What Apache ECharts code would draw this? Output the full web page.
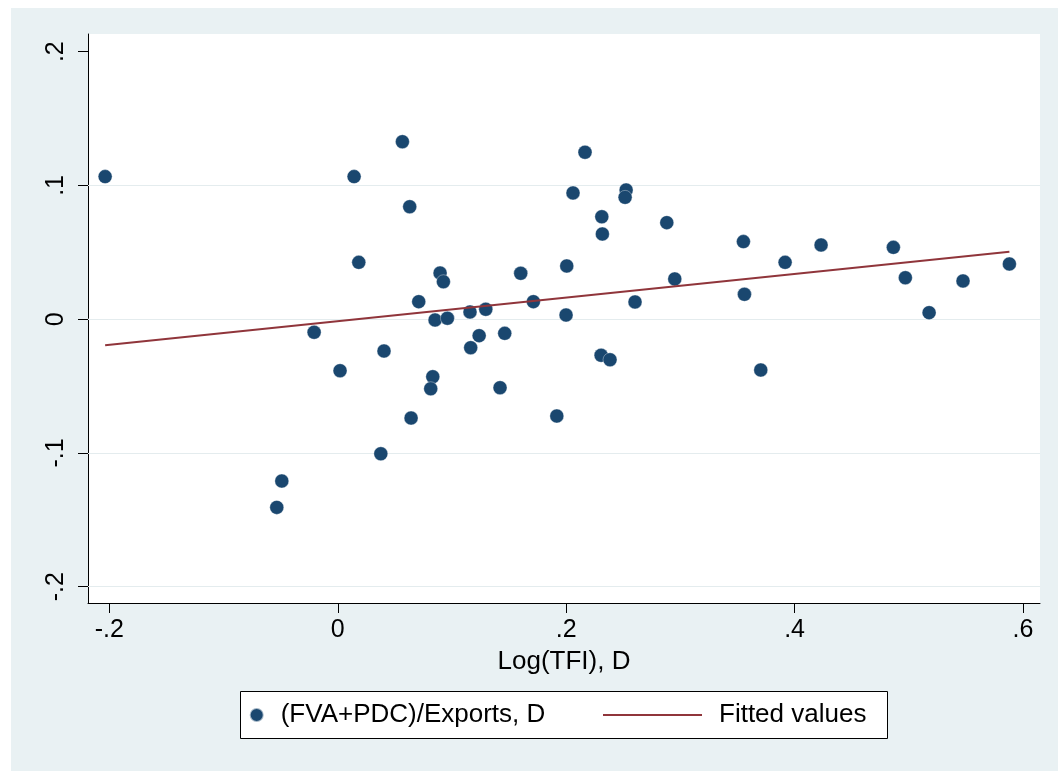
<!DOCTYPE html>
<html>
<head>
<meta charset="utf-8">
<title>Log(TFI), D</title>
<script src="https://cdn.jsdelivr.net/npm/echarts@6/dist/echarts.min.js"></script>
<style>
  html, body { margin: 0; padding: 0; background: #ffffff; }
  #chart { width: 1058px; height: 771px; }
</style>
</head>
<body>
<div id="chart"></div>
<script>
// Log(TFI), D on the horizontal axis
const tfiD = [
  -0.2037, 0.0143, 0.0566, 0.0630, 0.0184, 0.0896, 0.0925, 0.0709, 0.1158, 0.0852,
  0.0960, -0.0207, 0.1238, 0.0405, 0.1164, 0.0020, 0.0832, 0.0814, 0.0642, 0.0377,
  -0.0490, -0.0534, 0.1296, 0.1602, 0.1713, 0.2005, 0.1999, 0.2165, 0.2060, 0.2312,
  0.2317, 0.2525, 0.2516, 0.2881, 0.2951, 0.2603, 0.3552, 0.3917, 0.3561, 0.1462,
  0.2306, 0.2384, 0.3704, 0.1421, 0.1918, 0.4232, 0.4865, 0.4970, 0.5178, 0.5475,
  0.5881
];
// (FVA+PDC)/Exports, D on the vertical axis
const fvaPdcD = [
  0.1066, 0.1066, 0.1327, 0.0841, 0.0425, 0.0345, 0.0280, 0.0131, 0.0054, -0.0006,
  0.0007, -0.0098, -0.0123, -0.0238, -0.0213, -0.0385, -0.0430, -0.0520, -0.0739, -0.1006,
  -0.1210, -0.1407, 0.0074, 0.0343, 0.0131, 0.0398, 0.0031, 0.1248, 0.0944, 0.0766,
  0.0637, 0.0966, 0.0911, 0.0722, 0.0301, 0.0129, 0.0580, 0.0425, 0.0186, -0.0106,
  -0.0270, -0.0303, -0.0380, -0.0512, -0.0724, 0.0555, 0.0537, 0.0310, 0.0049, 0.0286,
  0.0413
];
// Fitted values: endpoints of the linear fit
const fitX = [-0.2037, 0.5881];
const fitY = [-0.0194, 0.0505];

// Axis ticks and gridlines
const xTicks = [-0.2, 0, 0.2, 0.4, 0.6];
const yTicks = [-0.2, -0.1, 0, 0.1, 0.2];
const yGrid = [-0.2, -0.1, 0, 0.1];

const seriesNames = ['(FVA+PDC)/Exports, D', 'Fitted values'];

const NAVY = '#1a476f';
const MAROON = '#90353b';
const BG = '#e9f1f3';
const FONT = '"Liberation Sans", Arial, Helvetica, sans-serif';

// Stata-style tick text: ".2", "-.1", "0"
function stataNum(v) {
  if (v === 0) return '0';
  return String(v).replace('0.', '.');
}

const scatterData = tfiD.map((x, i) => [x, fvaPdcD[i]]);
const fitData = fitX.map((x, i) => [x, fitY[i]]);

const chart = echarts.init(document.getElementById('chart'), null, { renderer: 'canvas' });

chart.setOption({
  animation: false,
  backgroundColor: '#ffffff',
  textStyle: { fontFamily: FONT },
  graphic: [
    {
      type: 'rect', z: -10, silent: true,
      shape: { x: 11, y: 8, width: 1047, height: 763 },
      style: { fill: BG }
    },
    {
      type: 'rect', z: 1, silent: true,
      shape: { x: 240.5, y: 691.5, width: 647, height: 47 },
      style: { fill: '#ffffff', stroke: '#000000', lineWidth: 1 }
    }
  ],
  grid: {
    left: 88, right: 18, top: 34, bottom: 168,
    show: true, backgroundColor: '#ffffff', borderWidth: 0
  },
  xAxis: {
    type: 'value',
    min: -0.2187, max: 0.6149,
    name: 'Log(TFI), D',
    nameLocation: 'middle',
    nameGap: 46,
    nameTextStyle: { color: '#000', fontSize: 26, fontFamily: FONT },
    axisLine: { show: true, onZero: false, lineStyle: { color: '#000', width: 1 } },
    axisTick: { show: true, length: 10, customValues: xTicks, lineStyle: { color: '#000', width: 1 } },
    axisLabel: {
      show: true, customValues: xTicks, margin: 15,
      color: '#000', fontSize: 25, fontFamily: FONT,
      formatter: stataNum
    },
    splitLine: { show: false }
  },
  yAxis: {
    type: 'value',
    min: -0.21219, max: 0.21323,
    axisLine: { show: true, onZero: false, lineStyle: { color: '#000', width: 1 } },
    axisTick: { show: true, length: 10, customValues: yTicks, lineStyle: { color: '#000', width: 1 } },
    axisLabel: {
      show: true, customValues: yTicks, rotate: 90, margin: 19,
      color: '#000', fontSize: 25, fontFamily: FONT,
      formatter: stataNum
    },
    splitLine: { show: false }
  },
  legend: [
    {
      data: [seriesNames[0]],
      left: 248.7, top: 700,
      padding: 0,
      itemWidth: 38, itemHeight: 14,
      icon: 'circle',
      textStyle: { color: '#000', fontSize: 26, fontFamily: FONT, lineHeight: 30 },
      selectedMode: false, z: 5
    },
    {
      data: [{ name: seriesNames[1], icon: 'rect' }],
      left: 603, top: 700,
      padding: 0,
      itemWidth: 99, itemHeight: 2,
      itemStyle: { color: MAROON, borderWidth: 0 },
      textStyle: { color: '#000', fontSize: 26, fontFamily: FONT, lineHeight: 30, padding: [0, 0, 0, 12] },
      selectedMode: false, z: 5
    }
  ],
  series: [
    {
      name: seriesNames[0],
      type: 'scatter',
      data: scatterData,
      symbol: 'circle',
      symbolSize: 14,
      itemStyle: { color: NAVY, borderColor: 'rgba(255,255,255,0.6)', borderWidth: 0.6, opacity: 1 },
      z: 3,
      markLine: {
        silent: true,
        symbol: 'none',
        label: { show: false },
        lineStyle: { color: '#e4ecee', width: 1.2, type: 'solid' },
        z: 1,
        data: yGrid.map(v => ({ yAxis: v }))
      }
    },
    {
      name: seriesNames[1],
      type: 'line',
      data: fitData,
      symbol: 'none',
      showSymbol: false,
      lineStyle: { color: MAROON, width: 2 },
      itemStyle: { color: MAROON },
      z: 4
    }
  ]
});
</script>
</body>
</html>
